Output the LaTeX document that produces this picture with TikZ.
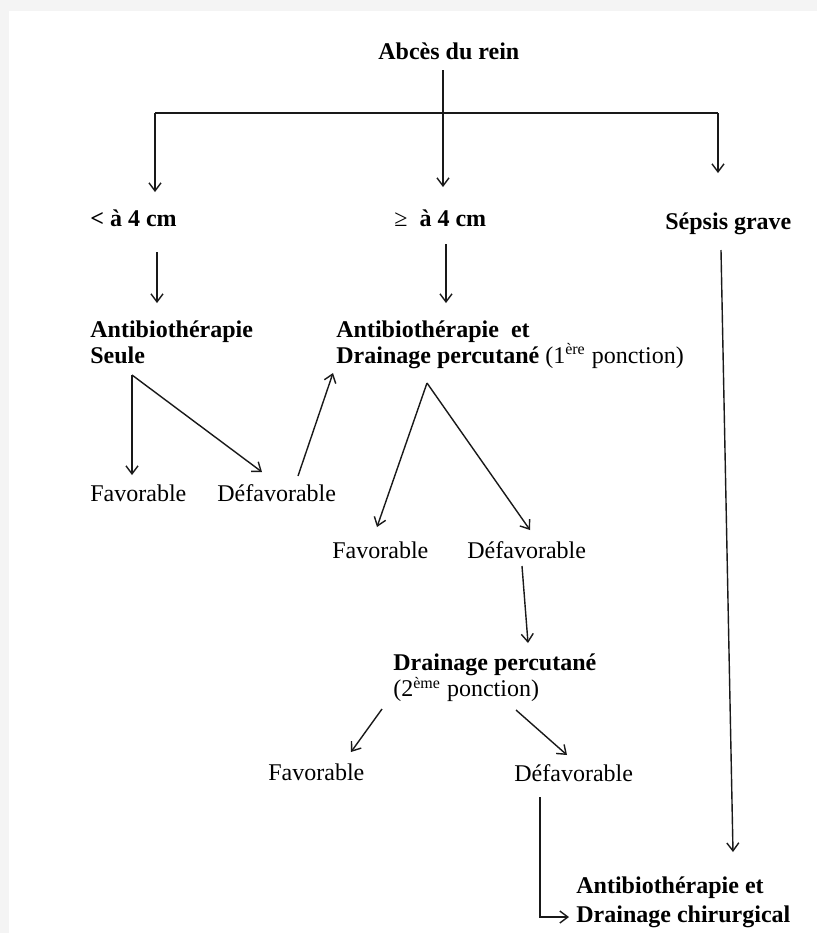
\documentclass[tikz,border=0pt]{standalone}
\usepackage{fontspec}
\setmainfont{Liberation Serif}
\usetikzlibrary{arrows.meta}

\begin{document}
\begin{tikzpicture}[x=0.5pt, y=-0.5pt,
  txt/.style={font=\fontsize{12}{13}\selectfont, inner sep=0pt, anchor=base west},
  hd/.style={txt, font=\fontsize{12}{13}\selectfont\bfseries},
  blk/.style={hd, anchor=west, align=left},
  ln/.style={line width=0.7pt, draw=black!90},
  arr/.style={ln, -{Straight Barb[length=4pt, width=6pt]}},
]
% page frame (scan margin)
\fill[gray!9] (0,0) rectangle (817,933);
\fill[white] (9,11) rectangle (817,933);
\useasboundingbox (0,0) rectangle (817,933);

% Texts
\node[hd] (abces) at (378,59) {Abcès du rein};
\node[hd] (small) at (90,226) {< à 4 cm};
\node[hd] (big) at (394,226) {{\mdseries ≥}\enspace à 4 cm};
\node[hd] (sepsis) at (665,229) {Sépsis grave};
\node[blk] (abseule) at (90,342) {Antibiothérapie\\Seule};
\node[blk] (abdrain) at (336,345)
  {Antibiothérapie\ \ et\\Drainage percutané {\mdseries(1\textsuperscript{ère} ponction)}};
\node[txt] (fav1) at (90,501) {Favorable};
\node[txt] (def1) at (217,501) {Défavorable};
\node[txt] (fav2) at (332,558) {Favorable};
\node[txt] (def2) at (467,558) {Défavorable};
\node[blk] (drain2) at (393,678)
  {Drainage percutané\\{\mdseries(2\textsuperscript{ème} ponction)}};
\node[txt] (fav3) at (268,780) {Favorable};
\node[txt] (def3) at (514,781) {Défavorable};
\node[blk, font=\fontsize{12}{14.5}\selectfont\bfseries] (chir) at (576,902)
  {Antibiothérapie et\\Drainage chirurgical};

% Connector ends
\coordinate (abces-out) at (443,70);
\coordinate (fork-l) at (155,113);
\coordinate (fork-r) at (718,113);
\coordinate (small-in) at (155,192);
\coordinate (big-in) at (443,187);
\coordinate (sepsis-in) at (718,173);
\coordinate (small-out) at (157,252);
\coordinate (abseule-in) at (157,303);
\coordinate (big-out) at (446,244);
\coordinate (abdrain-in) at (446,303);
\coordinate (abseule-out) at (132,375);
\coordinate (fav1-in) at (132,475);
\coordinate (def1-in) at (262,472);
\coordinate (def1-out) at (298,476);
\coordinate (abdrain-back) at (333,373);
\coordinate (abdrain-out) at (427,383);
\coordinate (fav2-in) at (377,527);
\coordinate (def2-in) at (530,530);
\coordinate (def2-out) at (522,566);
\coordinate (drain2-in) at (528,643);
\coordinate (drain2-l) at (382,709);
\coordinate (fav3-in) at (351,752);
\coordinate (drain2-r) at (516,710);
\coordinate (def3-in) at (567,755);
\coordinate (def3-out) at (540,797);
\coordinate (chir-in) at (569,917);
\coordinate (sepsis-out) at (721,250);
\coordinate (chir-top) at (733,852);

% Connectors
\draw[ln] (fork-l) -- (fork-r);
\draw[arr] (abces-out) -- (big-in);
\draw[arr] (fork-l) -- (small-in);
\draw[arr] (fork-r) -- (sepsis-in);
\draw[arr] (small-out) -- (abseule-in);
\draw[arr] (big-out) -- (abdrain-in);
\draw[arr] (abseule-out) -- (fav1-in);
\draw[arr] (abseule-out) -- (def1-in);
\draw[arr] (def1-out) -- (abdrain-back);
\draw[arr] (abdrain-out) -- (fav2-in);
\draw[arr] (abdrain-out) -- (def2-in);
\draw[arr] (def2-out) -- (drain2-in);
\draw[arr] (drain2-l) -- (fav3-in);
\draw[arr] (drain2-r) -- (def3-in);
\draw[arr] (def3-out) |- (chir-in);
\draw[arr] (sepsis-out) -- (chir-top);
\end{tikzpicture}
\end{document}
